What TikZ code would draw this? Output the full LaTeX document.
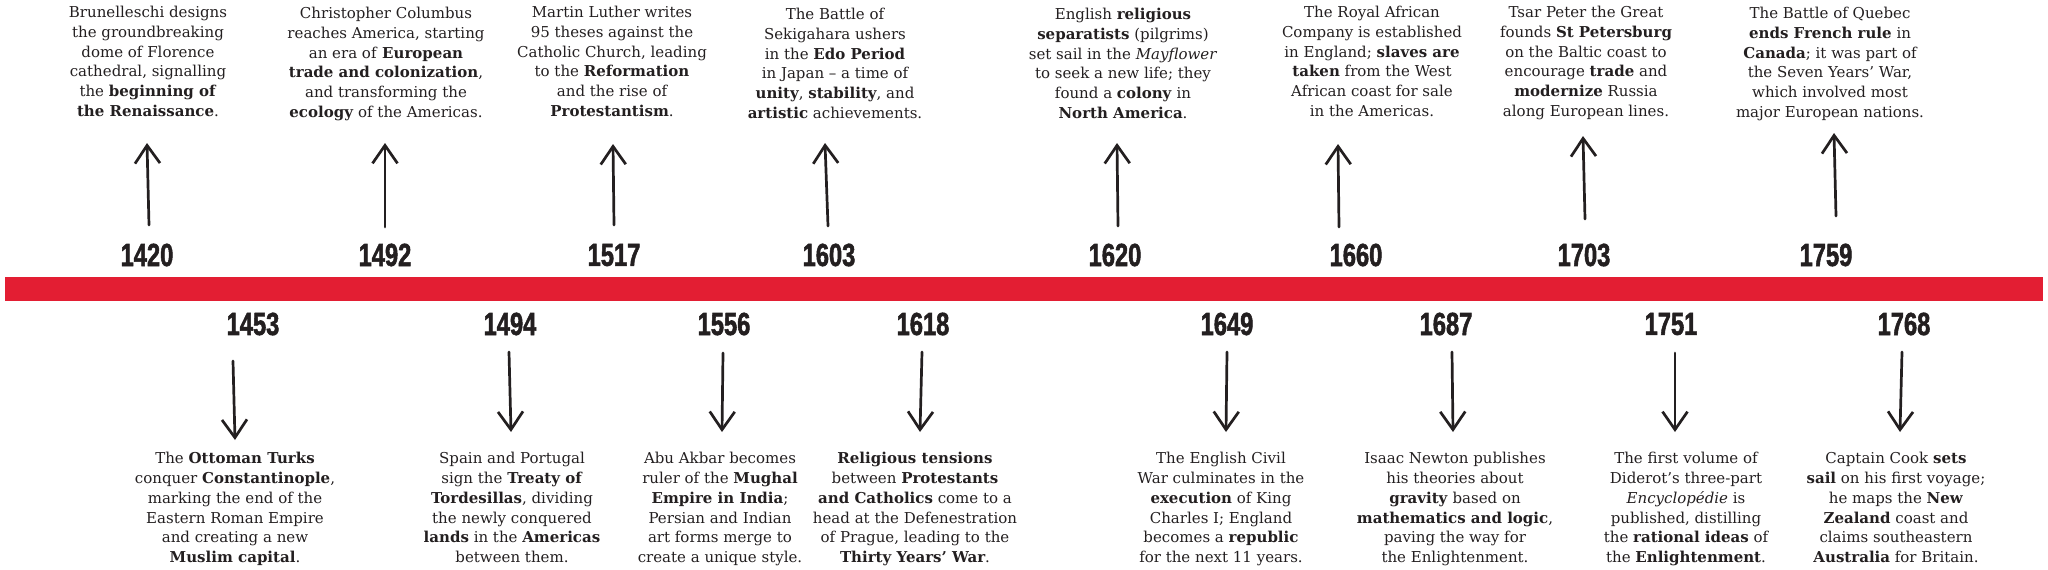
\documentclass[tikz,border=0pt]{standalone}
\usepackage{graphicx}
\usepackage{fontspec}
\setmainfont{DejaVu Serif}
\font\yearfnt="Liberation Sans/B:embolden=1.6;extend=0.74" at 32pt
\usetikzlibrary{arrows.meta}
\definecolor{ink}{HTML}{231F20}
\definecolor{barred}{HTML}{E31E33}
\begin{document}
\begin{tikzpicture}[x=1pt,y=-1pt,
  evt/.style={align=center, inner sep=0pt, text=ink, anchor=north,
    font=\fontsize{15}{19.8}\selectfont},
  year/.style={inner sep=0pt, text=ink, font=\yearfnt},
  arr/.style={draw=ink, line width=2.7pt, line cap=round, line join=round,
    -{Straight Barb[length=18pt,width=25pt,line width=2.7pt]}}
]
\useasboundingbox (0,0) rectangle (2048,570);
\fill[barred] (5,277) rectangle (2043,301);

% ---- top row ----
\node[year] (y1420) at (147,255) {1420};
\node[year] (y1492) at (385,255) {1492};
\node[year] (y1517) at (614,255) {1517};
\node[year] (y1603) at (829,255) {1603};
\node[year] (y1620) at (1115,255) {1620};
\node[year] (y1660) at (1356,255) {1660};
\node[year] (y1703) at (1584,255) {1703};
\node[year] (y1759) at (1826,255) {1759};

\node[evt] (t1420) at (148,6) {Brunelleschi designs\\ the groundbreaking\\ dome of Florence\\ cathedral, signalling\\ the \textbf{beginning of}\\ \textbf{the Renaissance}.};
\node[evt] (t1492) at (386,7) {Christopher Columbus\\ reaches America, starting\\ an era of \textbf{European}\\ \textbf{trade and colonization},\\ and transforming the\\ \textbf{ecology} of the Americas.};
\node[evt] (t1517) at (612,6) {Martin Luther writes\\ 95 theses against the\\ Catholic Church, leading\\ to the \textbf{Reformation}\\ and the rise of\\ \textbf{Protestantism}.};
\node[evt] (t1603) at (835,8) {The Battle of\\ Sekigahara ushers\\ in the \textbf{Edo Period}\\ in Japan -- a time of\\ \textbf{unity}, \textbf{stability}, and\\ \textbf{artistic} achievements.};
\node[evt] (t1620) at (1123,8) {English \textbf{religious}\\ \textbf{separatists} (pilgrims)\\ set sail in the \textit{Mayflower}\\ to seek a new life; they\\ found a \textbf{colony} in\\ \textbf{North America}.};
\node[evt] (t1660) at (1372,6) {The Royal African\\ Company is established\\ in England; \textbf{slaves are}\\ \textbf{taken} from the West\\ African coast for sale\\ in the Americas.};
\node[evt] (t1703) at (1586,6) {Tsar Peter the Great\\ founds \textbf{St Petersburg}\\ on the Baltic coast to\\ encourage \textbf{trade} and\\ \textbf{modernize} Russia\\ along European lines.};
\node[evt] (t1759) at (1830,7) {The Battle of Quebec\\ \textbf{ends French rule} in\\ \textbf{Canada}; it was part of\\ the Seven Years' War,\\ which involved most\\ major European nations.};

\coordinate (s1420) at (149,225); \coordinate (e1420) at (147,143);
\coordinate (s1492) at (385,227); \coordinate (e1492) at (385,143);
\coordinate (s1517) at (614,225); \coordinate (e1517) at (613,144);
\coordinate (s1603) at (828,226); \coordinate (e1603) at (825,143);
\coordinate (s1620) at (1118,226); \coordinate (e1620) at (1117,143);
\coordinate (s1660) at (1339,227); \coordinate (e1660) at (1338,144);
\coordinate (s1703) at (1585,219); \coordinate (e1703) at (1583,136);
\coordinate (s1759) at (1836,216); \coordinate (e1759) at (1834,133);
\foreach \k in {1420,1492,1517,1603,1620,1660,1703,1759}
  \draw[arr] (s\k) -- (e\k);

% ---- bottom row ----
\node[year] (y1453) at (253,324) {1453};
\node[year] (y1494) at (510,324) {1494};
\node[year] (y1556) at (724,324) {1556};
\node[year] (y1618) at (923,324) {1618};
\node[year] (y1649) at (1227,324) {1649};
\node[year] (y1687) at (1446,324) {1687};
\node[year] (y1751) at (1671,324) {1751};
\node[year] (y1768) at (1904,324) {1768};

\node[evt] (t1453) at (235,452) {The \textbf{Ottoman Turks}\\ conquer \textbf{Constantinople},\\ marking the end of the\\ Eastern Roman Empire\\ and creating a new\\ \textbf{Muslim capital}.};
\node[evt] (t1494) at (512,452) {Spain and Portugal\\ sign the \textbf{Treaty of}\\ \textbf{Tordesillas}, dividing\\ the newly conquered\\ \textbf{lands} in the \textbf{Americas}\\ between them.};
\node[evt] (t1556) at (720,452) {Abu Akbar becomes\\ ruler of the \textbf{Mughal}\\ \textbf{Empire in India};\\ Persian and Indian\\ art forms merge to\\ create a unique style.};
\node[evt] (t1618) at (915,452) {\textbf{Religious tensions}\\ between \textbf{Protestants}\\ \textbf{and Catholics} come to a\\ head at the Defenestration\\ of Prague, leading to the\\ \textbf{Thirty Years' War}.};
\node[evt] (t1649) at (1221,452) {The English Civil\\ War culminates in the\\ \textbf{execution} of King\\ Charles I; England\\ becomes a \textbf{republic}\\ for the next 11 years.};
\node[evt] (t1687) at (1455,452) {Isaac Newton publishes\\ his theories about\\ \textbf{gravity} based on\\ \textbf{mathematics and logic},\\ paving the way for\\ the Enlightenment.};
\node[evt] (t1751) at (1686,452) {The first volume of\\ Diderot's three-part\\ \textit{Encyclopédie} is\\ published, distilling\\ the \textbf{rational ideas} of\\ the \textbf{Enlightenment}.};
\node[evt] (t1768) at (1896,452) {Captain Cook \textbf{sets}\\ \textbf{sail} on his first voyage;\\ he maps the \textbf{New}\\ \textbf{Zealand} coast and\\ claims southeastern\\ \textbf{Australia} for Britain.};

\coordinate (s1453) at (233,361); \coordinate (e1453) at (235,440);
\coordinate (s1494) at (509,352); \coordinate (e1494) at (511,432);
\coordinate (s1556) at (723,353); \coordinate (e1556) at (722,432);
\coordinate (s1618) at (922,352); \coordinate (e1618) at (920,432);
\coordinate (s1649) at (1227,352); \coordinate (e1649) at (1226,432);
\coordinate (s1687) at (1452,352); \coordinate (e1687) at (1453,432);
\coordinate (s1751) at (1675,353); \coordinate (e1751) at (1675,432);
\coordinate (s1768) at (1902,352); \coordinate (e1768) at (1900,432);
\foreach \k in {1453,1494,1556,1618,1649,1687,1751,1768}
  \draw[arr] (s\k) -- (e\k);
\end{tikzpicture}
\end{document}
